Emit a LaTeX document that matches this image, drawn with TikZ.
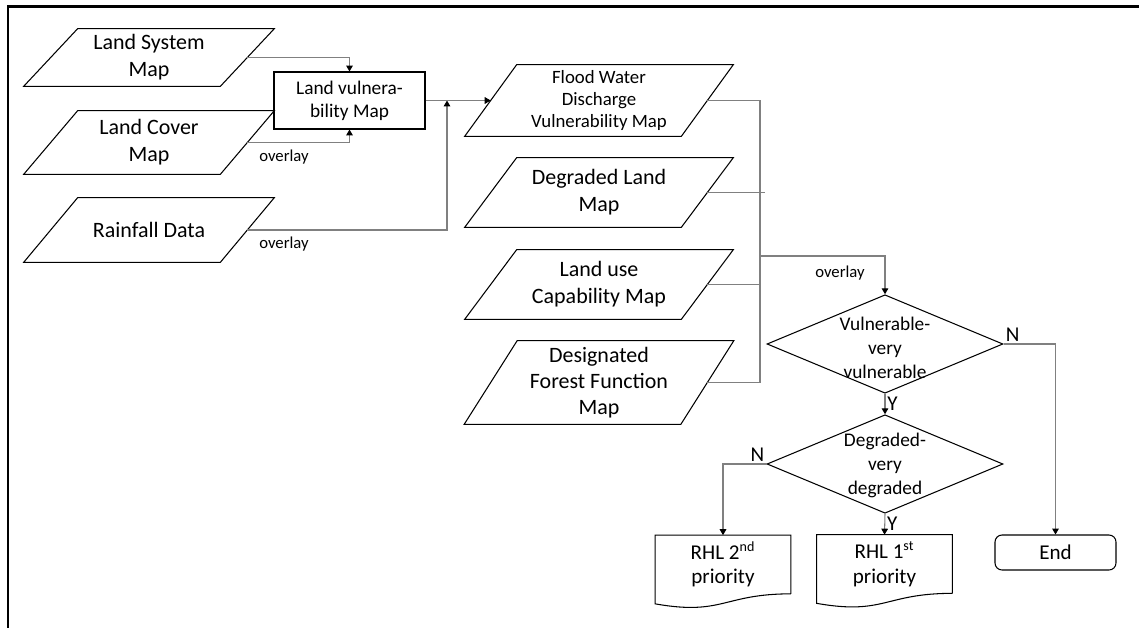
\documentclass[tikz,border=0pt]{standalone}
\usepackage{fontspec}
\setmainfont{Carlito}
\usetikzlibrary{shapes.geometric,arrows.meta,calc}

\tikzset{
    inmap/.style={rectangle, minimum width=3.92cm, inner sep=0pt, align=center,
        font=\fontsize{12.5}{15.5}\selectfont},
    layermap/.style={inmap, minimum width=4.32cm},
    procbox/.style={draw, line width=0.6pt, rectangle, minimum width=3.02cm,
        minimum height=1.14cm, align=center, font=\fontsize{11}{13}\selectfont},
    decision/.style={draw, line width=0.6pt, diamond, minimum width=4.72cm,
        minimum height=1.97cm, inner sep=0pt},
    dtext/.style={align=center, font=\fontsize{11}{13.6}\selectfont},
    docnode/.style={rectangle, minimum width=2.7cm, minimum height=1.16cm,
        align=center, font=\fontsize{12}{14.2}\selectfont},
    endnode/.style={draw, line width=0.6pt, rectangle, rounded corners=4pt,
        minimum width=2.42cm, minimum height=0.7cm, font=\fontsize{12}{14}\selectfont},
    conn/.style={draw=black!50, line width=0.6pt,
        -{Triangle[length=3.4pt,width=3.8pt,black]}},
    wire/.style={draw=black!50, line width=0.6pt},
    note/.style={font=\fontsize{9.5}{11}\selectfont},
    yn/.style={font=\fontsize{12}{14}\selectfont, inner sep=1pt}
}

\begin{document}
\begin{tikzpicture}[x=0.02cm, y=-0.02cm]
        \useasboundingbox (0,0) rectangle (1139,628);
        % frame
        \draw[line width=1.2pt] (8,628) -- (8,6.5) -- (1139,6.5);

        % first overlay
        \node[inmap, minimum height=1.14cm] (lsm) at (149,57.5) {Land System\\Map};
        \node[inmap, minimum height=1.26cm] (lcm) at (149,142.5) {Land Cover\\Map};
        \node[inmap, minimum height=1.28cm] (rfd) at (149,230) {Rainfall Data};
        \node[procbox] (lvm) at (349.5,100.5) {Land vulnera-\\bility Map};

        % second overlay
        \node[layermap, minimum height=1.42cm, font=\fontsize{10.7}{12.6}\selectfont] (fwd) at (599,100.5) {Flood Water\\Discharge\\Vulnerability Map};
        \node[layermap, minimum height=1.38cm] (dlm) at (599,192.5) {Degraded Land\\Map};
        \node[layermap, minimum height=1.38cm] (lum) at (599,284.5) {Land use\\Capability Map};
        \node[layermap, minimum height=1.66cm, font=\fontsize{12.5}{14.8}\selectfont] (dff) at (599,382.5) {Designated\\Forest Function\\Map};

        % parallelograms round the map nodes
        \foreach \n/\s in {lsm/54,lcm/54,rfd/54,fwd/52,dlm/52,lum/52,dff/53}
            \draw[line width=0.6pt] ($(\n.south west)-(\s/2,0)$) -- ($(\n.south east)-(\s/2,0)$)
                -- ($(\n.north east)+(\s/2,0)$) -- ($(\n.north west)+(\s/2,0)$) -- cycle;

        \draw[conn] (lsm.east) -| (lvm.north);
        \draw[conn] (lcm.east) -| (lvm.south);
        \node[note] (ov1) at (284,157) {overlay};
        \coordinate (j1) at (447,100.5);
        \draw[conn] (rfd.east) -| (j1);
        \node[note] (ov2) at (284,244) {overlay};
        \draw[conn] (lvm.east) -- (fwd.west);

        \coordinate (bt) at (760,100.5);
        \coordinate (bb) at (760,382.5);
        \coordinate (bj) at (760,256);
        \draw[wire] (fwd.east) -- (bt) -- (bb) -- (dff.east);
        \draw[wire] (dlm.east) -- ([xshift=3]dlm.east -| bt);
        \draw[wire] (lum.east) -- (lum.east -| bt);

        % decisions
        \node[decision, label={[dtext, yshift=-2pt]center:Vulnerable-\\very\\vulnerable}] (vul) at (885,344) {};
        \node[decision, label={[dtext, yshift=-1pt]center:Degraded-\\very\\degraded}] (deg) at (885,464) {};
        \draw[conn] (bj) -| (vul.north);
        \node[note] (ov3) at (840,273) {overlay};

        % results
        \node[docnode] (rhl2) at (723,564.5) {RHL 2\textsuperscript{nd}\\priority};
        \node[docnode] (rhl1) at (884.5,564) {RHL 1\textsuperscript{st}\\priority};
        \node[endnode] (end) at (1055.5,552.5) {End};
        \foreach \d in {rhl1,rhl2}
            \draw[line width=0.6pt] (\d.south east) -- (\d.north east) -- (\d.north west)
                -- ($(\d.south west)+(0,10)$)
                .. controls ($(\d.south)+(0,22)$) and (\d.south) .. (\d.south east);

        \draw[conn] (vul.east) -| (end.north) node[pos=0, above right, yn] (n1) {N};
        \draw[conn] (vul.south) -- (deg.north) node[midway, right, yn] (y1) {Y};
        \draw[conn] (deg.west) -| (rhl2.north) node[pos=0, above left, yn] (n2) {N};
        \draw[conn] (deg.south) -- (rhl1.north) node[midway, right, yn] (y2) {Y};
    \end{tikzpicture}
\end{document}
